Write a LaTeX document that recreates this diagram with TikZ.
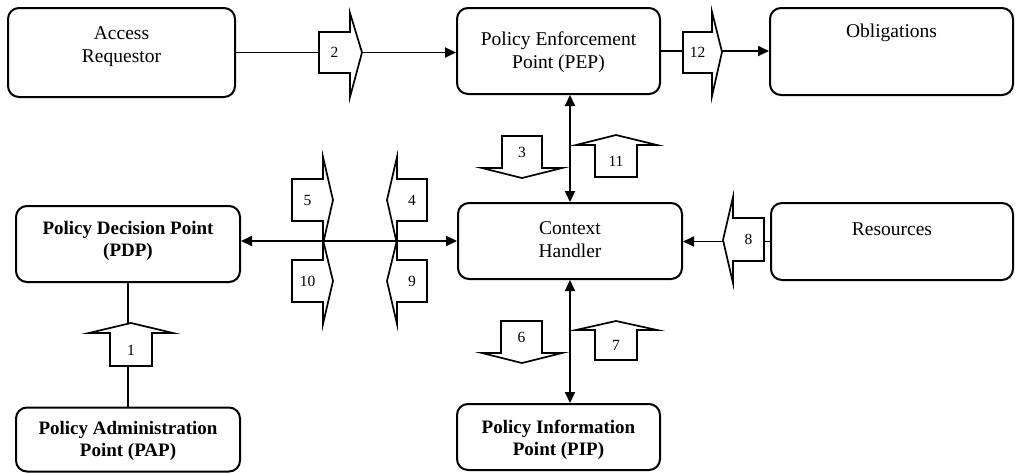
\documentclass[tikz,border=0pt]{standalone}
\usepackage{fontspec}
\setmainfont{Liberation Serif}
\usetikzlibrary{arrows.meta}
\begin{document}
\begin{tikzpicture}[x=1pt,y=-1pt,
  box/.style={draw, line width=2pt, rounded corners=11pt, inner sep=0pt},
  txt/.style={align=center, inner sep=0pt, font=\fontsize{19.5}{23}\selectfont},
  btxt/.style={align=center, inner sep=0pt, font=\fontsize{19}{22}\selectfont\bfseries},
  blk/.style={draw, fill=white, line width=1.7pt, line join=miter},
  num/.style={inner sep=0pt, font=\fontsize{15.5}{15.5}\selectfont},
  con/.style={line width=1.9pt},
  tipend/.style={-{Triangle[length=11pt,width=10pt]}},
  tipboth/.style={{Triangle[length=11pt,width=10pt]}-{Triangle[length=11pt,width=10pt]}},
  ]
\useasboundingbox[fill=white] (0,0) rectangle (1018,474);

% boxes
\node[box, minimum width=227pt, minimum height=89pt] (ar) at (121.5,52.5) {};
\node[txt] (art) at (121.5,47) {Access\\Requestor};
\node[box, minimum width=203pt, minimum height=86pt] (pep) at (558.5,51) {};
\node[txt] (pept) at (558.5,52) {Policy Enforcement\\Point (PEP)};
\node[box, minimum width=243pt, minimum height=87pt] (obl) at (891.5,51.5) {};
\node[txt] (oblt) at (891.5,33) {Obligations};
\node[box, minimum width=224pt, minimum height=76pt] (ch) at (570,241) {};
\node[txt] (cht) at (570,240) {Context\\Handler};
\node[box, minimum width=242pt, minimum height=77pt] (res) at (892,241.5) {};
\node[txt] (rest) at (892,229) {Resources};
\node[box, minimum width=224pt, minimum height=76pt] (pdp) at (128,244) {};
\node[btxt] (pdpt) at (128,240.5) {Policy Decision Point\\(PDP)};
\node[box, minimum width=224pt, minimum height=64pt] (pap) at (128,439.5) {};
\node[btxt] (papt) at (128,441) {Policy Administration\\Point (PAP)};
\node[box, minimum width=203pt, minimum height=66pt] (pip) at (558.5,437) {};
\node[btxt] (pipt) at (558.5,440) {Policy Information\\Point (PIP)};

% connectors
\draw[con,tipend] (ar.east) -- (ar.east -| pep.west);
\draw[con,tipend] (pep.east) -- (pep.east -| obl.west);
\draw[con,tipboth] (ch.north) -- (ch.north |- pep.south);
\draw[con,tipboth] (ch.west) -- (ch.west -| pdp.east);
\draw[con,tipend] (res.west) -- (res.west -| ch.east);
\draw[con,tipboth] (ch.south) -- (ch.south |- pip.north);
\draw[con] (pdp.south) -- (pap.north);

% block arrows
\draw[blk] (319,32) -- (350,32) -- (350,13) -- (362,52.5) -- (350,97) -- (350,73) -- (319,73) -- cycle;
\node[num] (b2) at (334.5,52.5) {2};
\draw[blk] (683,32) -- (712,32) -- (712,12) -- (722,52) -- (712,96) -- (712,73) -- (683,73) -- cycle;
\node[num] (b12) at (697.5,52.5) {12};

\draw[blk] (502,136) -- (542,136) -- (542,168) -- (562,168) -- (522,178) -- (482,168) -- (502,168) -- cycle;
\node[num] (b3) at (522,152) {3};
\draw[blk] (595,177) -- (637,177) -- (637,145) -- (657,145) -- (616,135) -- (576,145) -- (595,145) -- cycle;
\node[num] (b11) at (616,161) {11};

\draw[blk] (501,321) -- (542,321) -- (542,353) -- (562,353) -- (522,363) -- (482,353) -- (501,353) -- cycle;
\node[num] (b6) at (521.5,337) {6};
\draw[blk] (595,360) -- (637,360) -- (637,330) -- (657,330) -- (616,321) -- (576,330) -- (595,330) -- cycle;
\node[num] (b7) at (616,345) {7};

\draw[blk] (110,366) -- (152,366) -- (152,333) -- (173,333) -- (131,323) -- (89,333) -- (110,333) -- cycle;
\node[num] (b1) at (131,350) {1};

\draw[blk] (764,218) -- (733,218) -- (733,197) -- (723,240) -- (733,283) -- (733,261) -- (764,261) -- cycle;
\node[num] (b8) at (748.5,239.5) {8};

\draw[blk] (292,179) -- (323,179) -- (323,157) -- (333,200) -- (323,244) -- (323,221) -- (292,221) -- cycle;
\node[num] (b5) at (307.5,200) {5};
\draw[blk] (292,260) -- (323,260) -- (323,240) -- (333,281) -- (323,324) -- (323,302) -- (292,302) -- cycle;
\node[num] (b10) at (307.5,281) {10};

\draw[blk] (397,179) -- (427,179) -- (427,221) -- (397,221) -- (397,244) -- (387,200) -- (397,157) -- cycle;
\node[num] (b4) at (412,200) {4};
\draw[blk] (397,260) -- (427,260) -- (427,302) -- (397,302) -- (397,324) -- (387,281) -- (397,240) -- cycle;
\node[num] (b9) at (412,281) {9};
\end{tikzpicture}
\end{document}
